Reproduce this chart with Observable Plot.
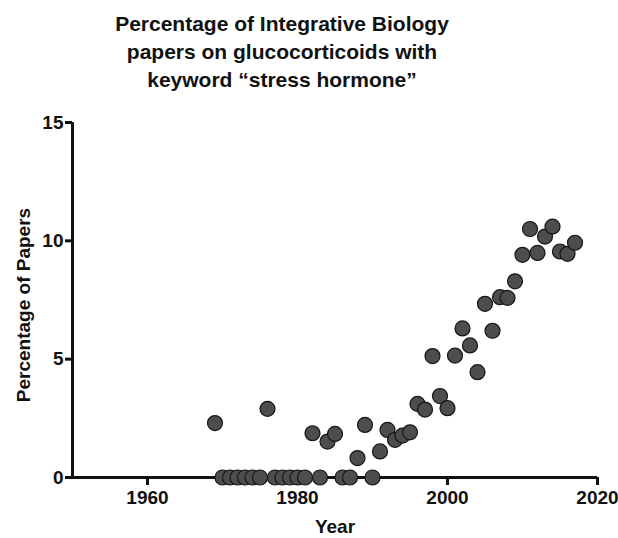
<!DOCTYPE html>
<html>
<head>
<meta charset="utf-8">
<script src="https://cdn.jsdelivr.net/npm/d3@7"></script>
<script src="https://cdn.jsdelivr.net/npm/@observablehq/plot@0.6"></script>
<style>
  html, body { margin: 0; padding: 0; background: #fff; }
  body { width: 618px; height: 538px; overflow: hidden; font-family: "Liberation Sans", Arial, Helvetica, sans-serif; }
  #title { position: absolute; top: 10px; left: 282px; transform: translateX(-50%); white-space: nowrap;
           text-align: center; font-weight: bold; font-size: 21px; line-height: 28px; color: #111; }
  #chart { position: absolute; top: 100px; left: 0; }
</style>
</head>
<body>
<div id="title">Percentage of Integrative Biology<br>papers on glucocorticoids with<br>keyword “stress hormone”</div>
<div id="chart"></div>
<script>
const years = [1969,1970,1971,1972,1973,1974,1975,1976,1977,1978,1979,1980,1981,1982,1983,1984,1985,1986,1987,1988,1989,1990,1991,1992,1993,1994,1995,1996,1997,1998,1999,2000,2001,2002,2003,2004,2005,2006,2007,2008,2009,2010,2011,2012,2013,2014,2015,2016,2017];
const percentages = [2.3,0,0,0,0,0,0,2.9,0,0,0,0,0,1.87,0,1.52,1.84,0,0,0.82,2.22,0,1.1,2.01,1.59,1.77,1.91,3.11,2.87,5.13,3.44,2.93,5.15,6.3,5.58,4.45,7.34,6.2,7.62,7.59,8.29,9.41,10.5,9.49,10.18,10.6,9.55,9.45,9.92];
const xTicks = [1960, 1980, 2000, 2020];
const yTicks = [0, 5, 10, 15];
const xTitle = "Year";
const yTitle = "Percentage of Papers";

const data = years.map((y, i) => ({year: y, pct: percentages[i]}));
const font = "Liberation Sans, Arial, Helvetica, sans-serif";

const chart = Plot.plot({
  width: 618,
  height: 438,
  marginLeft: 72,
  marginRight: 21,
  marginTop: 22,
  marginBottom: 61,
  style: {fontFamily: font, fontWeight: "bold", color: "#111", background: "#fff"},
  x: {domain: [1950, 2020]},
  y: {domain: [0, 15]},
  marks: [
    Plot.axisX({ticks: xTicks, tickFormat: d => String(d), tickSize: 8, tickPadding: 5, strokeWidth: 3, fontSize: 19, fontWeight: "bold", label: null}),
    Plot.axisY({ticks: yTicks, tickSize: 7, tickPadding: 2, strokeWidth: 3, fontSize: 19, fontWeight: "bold", label: null}),
    Plot.ruleY([0], {x1: 1950, x2: 2020, stroke: "#111", strokeWidth: 3}),
    Plot.ruleX([1950], {y1: 0, y2: 15, stroke: "#111", strokeWidth: 3}),
    Plot.text([xTitle], {frameAnchor: "bottom", dy: 55, lineAnchor: "bottom", fontSize: 19, fontWeight: "bold", fill: "#111"}),
    Plot.text([yTitle], {frameAnchor: "left", textAnchor: "middle", dx: -49, dy: 5, rotate: -90, fontSize: 19, fontWeight: "bold", fill: "#111"}),
    Plot.dot(data, {x: "year", y: "pct", r: 7.5, fill: "#4d4d4d", stroke: "#151515", strokeWidth: 1.2})
  ]
});
document.getElementById("chart").appendChild(chart);
</script>
</body>
</html>
